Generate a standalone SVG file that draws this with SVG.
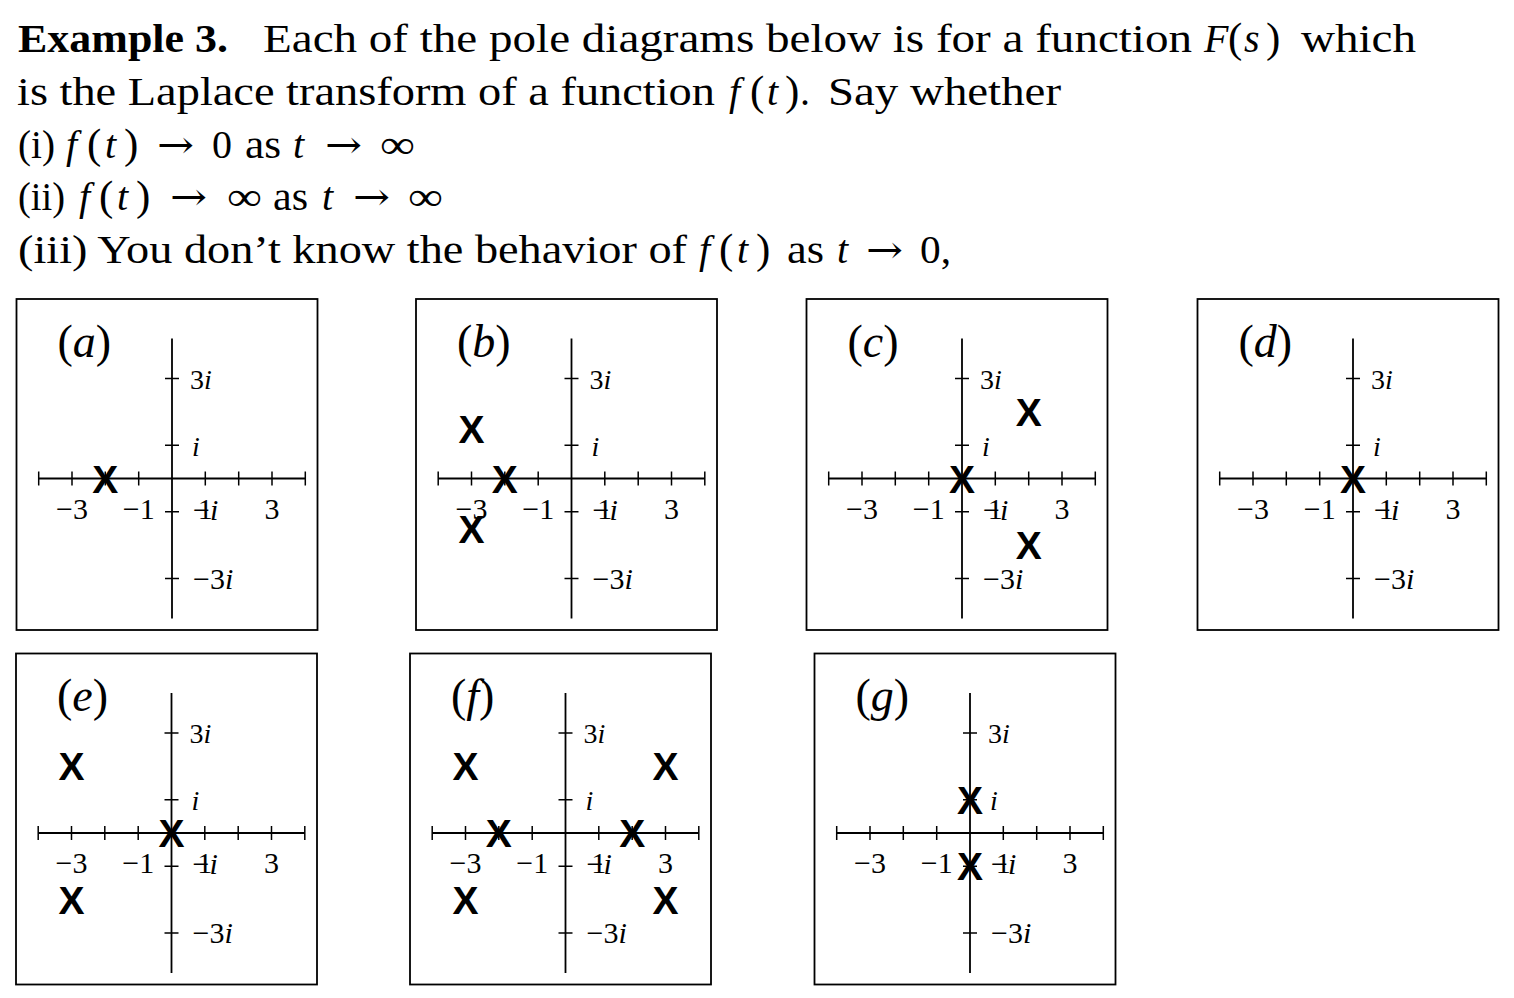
<svg xmlns="http://www.w3.org/2000/svg" width="1514" height="998" viewBox="0 0 1514 998">
<style>
.t{font-family:"Liberation Serif",serif;font-size:40px;fill:#000}
.b{font-weight:bold}
.it{font-style:italic}
.p{font-size:43px}
.ar{font-family:"DejaVu Serif","DejaVu Sans",serif;font-size:38px;fill:#000}
.box{fill:none;stroke:#000;stroke-width:1.8}
.ax{fill:none;stroke:#000;stroke-width:1.8}
.tk{fill:none;stroke:#000;stroke-width:1.5}
.lbl{font-family:"Liberation Serif",serif;font-size:46px;fill:#000}
.im{font-family:"Liberation Serif",serif;font-size:28px;fill:#000}
.im2{font-family:"Liberation Serif",serif;font-size:30px;fill:#000}
.num{font-family:"Liberation Serif",serif;font-size:30px;fill:#000;text-anchor:middle}
.pole{font-family:"Liberation Sans",Arial,sans-serif;font-weight:bold;font-size:39px;fill:#000;text-anchor:middle}
</style>
<defs>
<g id="axes">
<path class="ax" d="M-133.3,0H133.3M0,-140V140"/>
<path class="tk" d="M-133.3,-7V7M-100,-7V7M-66.7,-7V7M-33.3,-7V7M33.3,-7V7M66.7,-7V7M100,-7V7M133.3,-7V7M-7,-100H7M-7,-33.3H7M-7,33.3H7M-7,100H7"/>
</g>
</defs>
<rect width="1514" height="998" fill="#fff"/>
<g id="title">
<text class="t b" x="18" y="52" textLength="210" lengthAdjust="spacingAndGlyphs">Example 3.</text>
<text class="t" x="263" y="52" textLength="929" lengthAdjust="spacingAndGlyphs">Each of the pole diagrams below is for a function</text>
<text class="t it" x="1204" y="52">F</text><text class="t p" x="1228" y="52">(</text><text class="t it" x="1244" y="52">s</text><text class="t p" x="1266" y="52">)</text>
<text class="t" x="1301" y="52" textLength="115" lengthAdjust="spacingAndGlyphs">which</text>
<text class="t" x="17" y="105" textLength="698" lengthAdjust="spacingAndGlyphs">is the Laplace transform of a function</text>
<text class="t it" x="729" y="105">f</text><text class="t p" x="750" y="105">(</text><text class="t it" x="767" y="105">t</text><text class="t p" x="785" y="105">)</text><text class="t" x="800" y="105">.</text>
<text class="t" x="828" y="105" textLength="233" lengthAdjust="spacingAndGlyphs">Say whether</text>
<text class="t" x="18" y="157.5" textLength="37" lengthAdjust="spacingAndGlyphs">(i)</text>
<text class="t it" x="66" y="157.5">f</text><text class="t p" x="87" y="157.5">(</text><text class="t it" x="105" y="157.5">t</text><text class="t p" x="124" y="157.5">)</text>
<text class="ar" x="157" y="157.5" textLength="37" lengthAdjust="spacingAndGlyphs">→</text>
<text class="t" x="212" y="157.5">0</text>
<text class="t" x="245" y="157.5" textLength="36" lengthAdjust="spacingAndGlyphs">as</text>
<text class="t it" x="293" y="157.5">t</text>
<text class="ar" x="325" y="157.5" textLength="37" lengthAdjust="spacingAndGlyphs">→</text>
<text class="t" x="380" y="157.5" textLength="35" lengthAdjust="spacingAndGlyphs">∞</text>
<text class="t" x="18" y="210" textLength="47" lengthAdjust="spacingAndGlyphs">(ii)</text>
<text class="t it" x="79" y="210">f</text><text class="t p" x="99" y="210">(</text><text class="t it" x="117" y="210">t</text><text class="t p" x="136" y="210">)</text>
<text class="ar" x="170" y="210" textLength="37" lengthAdjust="spacingAndGlyphs">→</text>
<text class="t" x="227" y="210" textLength="35" lengthAdjust="spacingAndGlyphs">∞</text>
<text class="t" x="273" y="210" textLength="35" lengthAdjust="spacingAndGlyphs">as</text>
<text class="t it" x="322" y="210">t</text>
<text class="ar" x="353" y="210" textLength="37" lengthAdjust="spacingAndGlyphs">→</text>
<text class="t" x="408" y="210" textLength="35" lengthAdjust="spacingAndGlyphs">∞</text>
<text class="t" x="18" y="262.5" textLength="669" lengthAdjust="spacingAndGlyphs">(iii) You don’t know the behavior of</text>
<text class="t it" x="699" y="262.5">f</text><text class="t p" x="719" y="262.5">(</text><text class="t it" x="737" y="262.5">t</text><text class="t p" x="756" y="262.5">)</text>
<text class="t" x="787" y="262.5" textLength="37" lengthAdjust="spacingAndGlyphs">as</text>
<text class="t it" x="837" y="262.5">t</text>
<text class="ar" x="866" y="262.5" textLength="37" lengthAdjust="spacingAndGlyphs">→</text>
<text class="t" x="920" y="262.5" textLength="31" lengthAdjust="spacingAndGlyphs">0,</text>
</g>

<g id="panel-a" transform="translate(172,478.5)">
<rect class="box" x="-155.5" y="-179.5" width="301" height="331"/>
<text class="lbl" x="-114.5" y="-122">(<tspan font-style="italic">a</tspan>)</text>
<use href="#axes"/>
<text class="num" x="-100" y="40">−3</text><text class="num" x="-33.3" y="40">−1</text><text class="num" x="33.3" y="40">1</text><text class="num" x="100" y="40">3</text>
<text class="im" x="18" y="-90">3<tspan font-style="italic">i</tspan></text>
<text class="im" x="20" y="-23" font-style="italic">i</text>
<text class="im2" x="21" y="41">−<tspan font-style="italic">i</tspan></text>
<text class="im2" x="21" y="110">−3<tspan font-style="italic">i</tspan></text>
<text class="pole" x="-66.7" y="14">X</text>
</g>

<g id="panel-b" transform="translate(571.5,478.5)">
<rect class="box" x="-155.5" y="-179.5" width="301" height="331"/>
<text class="lbl" x="-114.5" y="-122">(<tspan font-style="italic">b</tspan>)</text>
<use href="#axes"/>
<text class="num" x="-100" y="40">−3</text><text class="num" x="-33.3" y="40">−1</text><text class="num" x="33.3" y="40">1</text><text class="num" x="100" y="40">3</text>
<text class="im" x="18" y="-90">3<tspan font-style="italic">i</tspan></text>
<text class="im" x="20" y="-23" font-style="italic">i</text>
<text class="im2" x="21" y="41">−<tspan font-style="italic">i</tspan></text>
<text class="im2" x="21" y="110">−3<tspan font-style="italic">i</tspan></text>
<text class="pole" x="-66.7" y="14">X</text>
<text class="pole" x="-100" y="-36">X</text>
<text class="pole" x="-100" y="64">X</text>
</g>

<g id="panel-c" transform="translate(962,478.5)">
<rect class="box" x="-155.5" y="-179.5" width="301" height="331"/>
<text class="lbl" x="-114.5" y="-122">(<tspan font-style="italic">c</tspan>)</text>
<use href="#axes"/>
<text class="num" x="-100" y="40">−3</text><text class="num" x="-33.3" y="40">−1</text><text class="num" x="33.3" y="40">1</text><text class="num" x="100" y="40">3</text>
<text class="im" x="18" y="-90">3<tspan font-style="italic">i</tspan></text>
<text class="im" x="20" y="-23" font-style="italic">i</text>
<text class="im2" x="21" y="41">−<tspan font-style="italic">i</tspan></text>
<text class="im2" x="21" y="110">−3<tspan font-style="italic">i</tspan></text>
<text class="pole" x="0" y="14">X</text>
<text class="pole" x="66.7" y="-52.7">X</text>
<text class="pole" x="66.7" y="80.7">X</text>
</g>

<g id="panel-d" transform="translate(1353,478.5)">
<rect class="box" x="-155.5" y="-179.5" width="301" height="331"/>
<text class="lbl" x="-114.5" y="-122">(<tspan font-style="italic">d</tspan>)</text>
<use href="#axes"/>
<text class="num" x="-100" y="40">−3</text><text class="num" x="-33.3" y="40">−1</text><text class="num" x="33.3" y="40">1</text><text class="num" x="100" y="40">3</text>
<text class="im" x="18" y="-90">3<tspan font-style="italic">i</tspan></text>
<text class="im" x="20" y="-23" font-style="italic">i</text>
<text class="im2" x="21" y="41">−<tspan font-style="italic">i</tspan></text>
<text class="im2" x="21" y="110">−3<tspan font-style="italic">i</tspan></text>
<text class="pole" x="0" y="14">X</text>
</g>

<g id="panel-e" transform="translate(171.5,833)">
<rect class="box" x="-155.5" y="-179.5" width="301" height="331"/>
<text class="lbl" x="-114.5" y="-122">(<tspan font-style="italic">e</tspan>)</text>
<use href="#axes"/>
<text class="num" x="-100" y="40">−3</text><text class="num" x="-33.3" y="40">−1</text><text class="num" x="33.3" y="40">1</text><text class="num" x="100" y="40">3</text>
<text class="im" x="18" y="-90">3<tspan font-style="italic">i</tspan></text>
<text class="im" x="20" y="-23" font-style="italic">i</text>
<text class="im2" x="21" y="41">−<tspan font-style="italic">i</tspan></text>
<text class="im2" x="21" y="110">−3<tspan font-style="italic">i</tspan></text>
<text class="pole" x="0" y="14">X</text>
<text class="pole" x="-100" y="-52.7">X</text>
<text class="pole" x="-100" y="80.7">X</text>
</g>

<g id="panel-f" transform="translate(565.5,833)">
<rect class="box" x="-155.5" y="-179.5" width="301" height="331"/>
<text class="lbl" x="-114.5" y="-122">(<tspan font-style="italic">f</tspan>)</text>
<use href="#axes"/>
<text class="num" x="-100" y="40">−3</text><text class="num" x="-33.3" y="40">−1</text><text class="num" x="33.3" y="40">1</text><text class="num" x="100" y="40">3</text>
<text class="im" x="18" y="-90">3<tspan font-style="italic">i</tspan></text>
<text class="im" x="20" y="-23" font-style="italic">i</text>
<text class="im2" x="21" y="41">−<tspan font-style="italic">i</tspan></text>
<text class="im2" x="21" y="110">−3<tspan font-style="italic">i</tspan></text>
<text class="pole" x="-66.7" y="14">X</text>
<text class="pole" x="66.7" y="14">X</text>
<text class="pole" x="-100" y="-52.7">X</text>
<text class="pole" x="-100" y="80.7">X</text>
<text class="pole" x="100" y="-52.7">X</text>
<text class="pole" x="100" y="80.7">X</text>
</g>

<g id="panel-g" transform="translate(970,833)">
<rect class="box" x="-155.5" y="-179.5" width="301" height="331"/>
<text class="lbl" x="-114.5" y="-122">(<tspan font-style="italic">g</tspan>)</text>
<use href="#axes"/>
<text class="num" x="-100" y="40">−3</text><text class="num" x="-33.3" y="40">−1</text><text class="num" x="33.3" y="40">1</text><text class="num" x="100" y="40">3</text>
<text class="im" x="18" y="-90">3<tspan font-style="italic">i</tspan></text>
<text class="im" x="20" y="-23" font-style="italic">i</text>
<text class="im2" x="21" y="41">−<tspan font-style="italic">i</tspan></text>
<text class="im2" x="21" y="110">−3<tspan font-style="italic">i</tspan></text>
<text class="pole" x="0" y="-19.3">X</text>
<text class="pole" x="0" y="47.3">X</text>
</g>
<g id="connectors"/>
</svg>
